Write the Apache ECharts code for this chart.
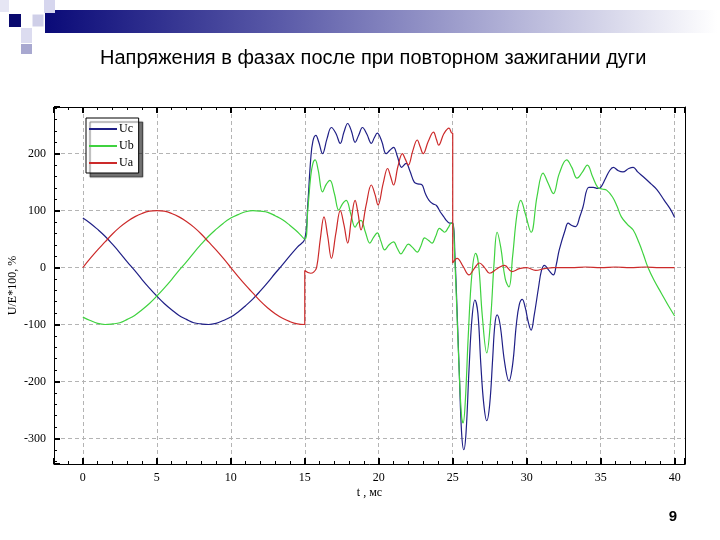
<!DOCTYPE html>
<html><head><meta charset="utf-8">
<script src="https://cdn.jsdelivr.net/npm/echarts@6/dist/echarts.min.js"></script>
<style>html,body{margin:0;padding:0;background:#fff}#c{width:720px;height:540px}</style>
</head><body><div id="c"></div>
<script>
// ---- data ----
const seriesNames = ['Uc', 'Ub', 'Ua'];
const xTicks = [0, 5, 10, 15, 20, 25, 30, 35, 40];
const yTicks = [-300, -200, -100, 0, 100, 200];

// 0..15 ms, step 0.5 ms
const tPre = [0,0.5,1,1.5,2,2.5,3,3.5,4,4.5,5,5.5,6,6.5,7,7.5,8,8.5,9,9.5,10,10.5,11,11.5,12,12.5,13,13.5,14,14.5,15];
const uaPre = [0,16,31,45,59,71,81,89,95,99,100,99,95,89,81,71,59,45,31,16,0,-16,-31,-45,-59,-71,-81,-89,-95,-99,-100];
const ubPre = [-87,-93,-98,-100,-99,-97,-91,-84,-74,-63,-50,-36,-21,-5,10,26,41,55,67,78,87,93,98,100,99,97,91,84,74,63,50];
const ucPre = [87,78,67,55,41,26,10,-5,-21,-36,-50,-63,-74,-84,-91,-97,-99,-100,-98,-93,-87,-78,-67,-55,-41,-26,-10,5,21,36,50];

// after re-ignition
const tUcPost = [15.2,15.4,15.55,15.75,15.95,16.2,16.5,16.8,17.1,17.4,17.65,17.9,18.15,18.4,18.65,18.9,19.2,19.5,19.7,19.9,20.2,20.5,20.75,21.0,21.25,21.55,21.85,22.1,22.4,22.65,22.9,23.15,23.4,23.65,23.9,24.15,24.4,24.6,24.8,25.0,25.15,25.3,25.45,25.6,25.75,25.9,26.1,26.3,26.5,26.7,26.9,27.1,27.3,27.5,27.7,27.85,28.0,28.2,28.5,28.8,29.05,29.3,29.5,29.7,29.9,30.1,30.3,30.5,30.8,31.0,31.2,31.5,31.8,32.0,32.2,32.6,32.8,33.05,33.3,33.6,33.8,34.2,34.5,34.8,35.0,35.3,35.6,35.85,36.2,36.5,36.9,37.2,37.5,37.9,38.4,38.8,39.3,39.7,40];
const ucPost = [110,190,222,232,220,200,226,246,236,218,238,253,240,220,233,246,234,218,228,236,222,200,206,211,196,176,183,170,150,147,146,130,118,112,109,98,89,82,78,78,20,-80,-190,-290,-320,-290,-180,-90,-57,-80,-170,-240,-269,-240,-160,-100,-83,-100,-165,-199,-170,-100,-65,-56,-70,-95,-110,-85,-35,-5,4,-5,-13,5,31,66,78,74,72,90,106,141,141,139,141,155,170,176,170,168,174,176,168,159,147,137,118,103,88];

const tUbPost = [15.2,15.4,15.55,15.7,15.9,16.2,16.45,16.7,17.0,17.3,17.55,17.8,18.1,18.4,18.6,18.8,19.1,19.4,19.65,19.9,20.15,20.4,20.7,21.0,21.25,21.5,21.75,22.0,22.3,22.6,22.85,23.1,23.35,23.6,23.85,24.1,24.3,24.45,24.7,24.9,25.0,25.15,25.3,25.45,25.6,25.7,25.85,26.05,26.3,26.55,26.75,27.0,27.3,27.55,27.8,28.0,28.25,28.55,28.8,29.05,29.35,29.6,29.9,30.3,30.7,31.1,31.45,31.8,32.2,32.7,33.05,33.4,33.75,34.1,34.45,34.8,35.1,35.4,35.8,36.1,36.4,36.8,37.2,37.6,37.9,38.2,38.6,39.1,39.6,40];
const ubPost = [100,160,183,189,172,133,146,153,130,101,112,118,95,71,79,83,62,43,53,61,46,31,40,45,34,24,33,41,35,27,38,52,48,43,55,69,65,62,70,78,78,10,-90,-190,-262,-273,-235,-120,-10,25,5,-85,-150,-95,10,62,35,-20,-34,20,95,118,95,62,125,166,148,130,165,189,176,157,167,180,160,141,138,136,124,108,89,76,66,43,22,0,-22,-45,-68,-85];

const tUaPost = [15.0,15.4,15.6,15.8,16.05,16.3,16.55,16.8,17.1,17.4,17.65,17.9,18.15,18.4,18.6,18.8,19.15,19.5,19.75,19.95,20.3,20.6,20.8,21.0,21.3,21.6,21.8,22.0,22.3,22.6,22.8,23.0,23.35,23.7,23.9,24.05,24.4,24.75,24.95,25.0,25.0,25.3,25.7,26.1,26.45,26.8,27.15,27.5,28.0,28.5,29.0,29.5,30.0,30.6,31.2,31.8,33,34,35,36,37,38,39,40];
const uaPost = [-5,-10,-8,0,50,89,55,16,60,100,75,43,85,118,95,66,110,145,128,110,148,174,160,145,178,200,190,180,205,224,212,200,222,238,225,215,235,245,236,236,8,16,2,-13,-2,8,0,-10,-2,4,-7,-2,0,-5,-2,0,0,1,0,1,0,1,0,0];

// ---- build ----
function pairs(t, v) { return t.map((x, i) => [x, v[i]]); }
const dataUc = pairs(tPre, ucPre).concat(pairs(tUcPost, ucPost));
const dataUb = pairs(tPre, ubPre).concat(pairs(tUbPost, ubPost));
const dataUa = pairs(tPre, uaPre).concat(pairs(tUaPost, uaPost));
const colors = { Uc: '#1f1f86', Ub: '#3fd23f', Ua: '#cc2a2a' };

const chart = echarts.init(document.getElementById('c'), null, { renderer: 'canvas' });
const serif = '"Liberation Serif", "DejaVu Serif", serif';
const isTick = (arr) => (v) => arr.some(t => Math.abs(t - v) < 1e-6) ? String(Math.round(v)) : '';

function tickCommon() {
  return {
    axisTick: { show: true, inside: true, length: 6, lineStyle: { color: '#000', width: 2 } },
    minorTick: { show: true, splitNumber: 5, length: 3, lineStyle: { color: '#000', width: 1 } },
    axisLine: { show: true, onZero: false, lineStyle: { color: '#000', width: 1 } }
  };
}

function line(name, data) {
  return {
    name, type: 'line', data, showSymbol: false, symbol: 'none',
    smooth: 0.4,
    lineStyle: { color: colors[name], width: 1.2 },
    itemStyle: { color: colors[name] },
    emphasis: { disabled: true }, silent: true, z: 3
  };
}

chart.setOption({
  animation: false,
  backgroundColor: '#fff',
  title: {
    text: 'Напряжения в фазах после при повторном зажигании дуги',
    left: 100, top: 48, padding: 0,
    textStyle: { fontFamily: '"Liberation Sans", Arial, sans-serif', fontSize: 20, fontWeight: 'normal', color: '#000' }
  },
  grid: { left: 54, right: 35, top: 107, bottom: 76, show: false, outerBoundsMode: 'none', containLabel: false },
  legend: {
    data: seriesNames, orient: 'vertical', left: 86, top: 118,
    icon: 'rect', itemWidth: 28, itemHeight: 2, itemGap: 5,
    textStyle: { fontFamily: serif, fontSize: 12, color: '#000', padding: [0, 0, 0, -3] },
    backgroundColor: '#fff', borderColor: '#000', borderWidth: 1, borderRadius: 0,
    padding: [5, 5, 4, 3],
    shadowColor: 'rgba(0,0,0,0.55)', shadowBlur: 1, shadowOffsetX: 4, shadowOffsetY: 4,
    selectedMode: false
  },
  xAxis: [
    Object.assign({
      type: 'value', min: -1.95, max: 40.7, splitNumber: 8, position: 'bottom',
      axisLabel: { formatter: isTick(xTicks), color: '#000', fontFamily: serif, fontSize: 12, margin: 8 },
      splitLine: { show: true, showMinLine: false, showMaxLine: false, lineStyle: { type: [4, 3], color: '#b4b4b4', width: 1 } },
      name: 't , мс', nameLocation: 'middle', nameGap: 23, nameMoveOverlap: false,
      nameTextStyle: { fontFamily: serif, fontSize: 12, color: '#000' }
    }, tickCommon()),
    Object.assign({
      type: 'value', min: -1.95, max: 40.7, splitNumber: 8, position: 'top',
      axisLabel: { show: false }, splitLine: { show: false }
    }, tickCommon())
  ],
  yAxis: [
    Object.assign({
      type: 'value', min: -345, max: 282, splitNumber: 6, position: 'left',
      axisLabel: { formatter: isTick(yTicks), color: '#000', fontFamily: serif, fontSize: 12, margin: 8 },
      splitLine: { show: true, showMinLine: false, showMaxLine: false, lineStyle: { type: [4, 3], color: '#b4b4b4', width: 1 } },
      name: 'U/E*100, %', nameLocation: 'middle', nameGap: 35, nameRotate: 90, nameMoveOverlap: false,
      nameTextStyle: { fontFamily: serif, fontSize: 12, color: '#000' }
    }, tickCommon()),
    {
      type: 'value', min: -345, max: 282, position: 'right',
      axisLine: { show: true, onZero: false, lineStyle: { color: '#000', width: 1 } },
      axisTick: { show: false }, axisLabel: { show: false }, splitLine: { show: false }
    }
  ],
  series: [line('Uc', dataUc), line('Ub', dataUb), line('Ua', dataUa)],
  graphic: [
    { type: 'rect', shape: { x: 45, y: 10, width: 672, height: 23 }, silent: true,
      style: { fill: new echarts.graphic.LinearGradient(0, 0, 1, 0, [
        { offset: 0, color: '#0a0a78' }, { offset: 0.35, color: '#5a5aa8' },
        { offset: 0.7, color: '#b4b4d8' }, { offset: 1, color: '#ffffff' }]) } },
    { type: 'rect', shape: { x: 9, y: 14, width: 12, height: 13 }, style: { fill: '#0a0a6e' }, silent: true },
    { type: 'rect', shape: { x: 32, y: 14, width: 12, height: 13 }, style: { fill: '#cfcfe8', stroke: '#fff', lineWidth: 1 }, silent: true },
    { type: 'rect', shape: { x: 44, y: 0, width: 11, height: 13 }, style: { fill: '#d6d6ee' }, silent: true },
    { type: 'rect', shape: { x: 21, y: 28, width: 11, height: 15 }, style: { fill: '#dcdcf0' }, silent: true },
    { type: 'rect', shape: { x: 21, y: 44, width: 11, height: 10 }, style: { fill: '#a8a8d0' }, silent: true },
    { type: 'rect', shape: { x: 0, y: 0, width: 9, height: 12 }, style: { fill: '#e6e6f4' }, silent: true },
    { type: 'text', x: 673, y: 517, silent: true,
      style: { text: '9', fontFamily: '"Liberation Sans", Arial, sans-serif', fontSize: 15, fontWeight: 'bold', fill: '#000', textAlign: 'center', textVerticalAlign: 'middle' } }
  ]
});
</script></body></html>
